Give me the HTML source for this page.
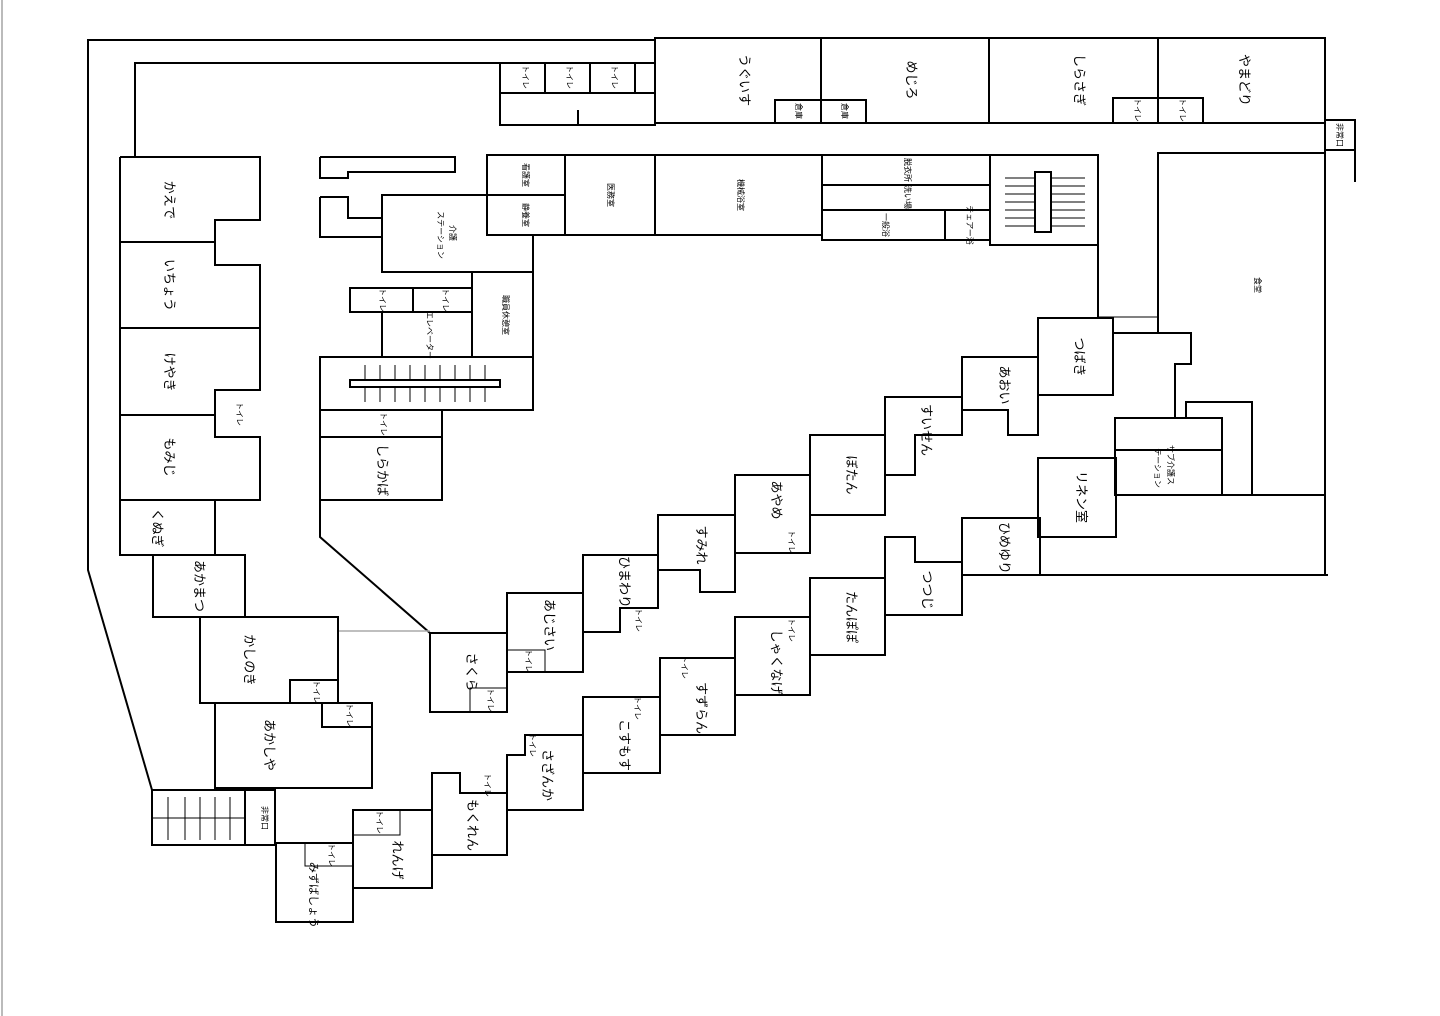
<!DOCTYPE html>
<html><head><meta charset="utf-8"><style>
html,body{margin:0;padding:0;background:#fff;}
svg{display:block;}
text{font-family:"Liberation Sans","Noto Sans CJK JP",sans-serif;fill:#000;}
</style></head><body>
<svg width="1440" height="1016" viewBox="0 0 1440 1016" xmlns="http://www.w3.org/2000/svg">
<rect x="0" y="0" width="1440" height="1016" fill="#fff"/>
<line x1="2" y1="0" x2="2" y2="1016" stroke="#bbb" stroke-width="2"/>
<g fill="none" stroke="#000" stroke-width="2">
<polyline points="655,40 88,40 88,570 152,790"/>
<polyline points="135,157 135,63 500,63"/>
<rect x="655" y="38" width="670" height="85"/>
<line x1="821" y1="38" x2="821" y2="123"/><line x1="989" y1="38" x2="989" y2="123"/><line x1="1158" y1="38" x2="1158" y2="123"/>
<rect x="775" y="100" width="91" height="23"/><line x1="821" y1="100" x2="821" y2="123"/>
<rect x="1113" y="98" width="90" height="25"/>
<rect x="500" y="63" width="155" height="62"/>
<line x1="500" y1="93" x2="655" y2="93"/><line x1="545" y1="63" x2="545" y2="93"/><line x1="590" y1="63" x2="590" y2="93"/><line x1="635" y1="63" x2="635" y2="93"/>
<line x1="578" y1="110" x2="578" y2="125"/>
<line x1="655" y1="123" x2="1325" y2="123"/>
<rect x="1325" y="120" width="30" height="30"/><line x1="1355" y1="150" x2="1355" y2="182"/>
<line x1="1325" y1="150" x2="1325" y2="575"/>
<polyline points="1325,153 1158,153 1158,333"/>
<rect x="487" y="155" width="335" height="80"/>
<line x1="487" y1="195" x2="565" y2="195"/><line x1="565" y1="155" x2="565" y2="235"/><line x1="655" y1="155" x2="655" y2="235"/>
<rect x="822" y="155" width="168" height="85"/>
<line x1="822" y1="185" x2="990" y2="185"/><line x1="822" y1="210" x2="990" y2="210"/><line x1="945" y1="210" x2="945" y2="240"/>
<rect x="990" y="155" width="108" height="90"/>
<line x1="1098" y1="245" x2="1098" y2="318"/>
<g stroke-width="1"><line x1="1005" y1="178" x2="1085" y2="178"/><line x1="1005" y1="186" x2="1085" y2="186"/><line x1="1005" y1="194" x2="1085" y2="194"/><line x1="1005" y1="202" x2="1085" y2="202"/><line x1="1005" y1="210" x2="1085" y2="210"/><line x1="1005" y1="218" x2="1085" y2="218"/><line x1="1005" y1="226" x2="1085" y2="226"/></g>
<rect x="1035" y="172" width="16" height="60" fill="#fff"/>
<polyline points="320,157 455,157 455,172 348,172 348,178 320,178 320,157"/>
<polyline points="320,197 348,197 348,218 382,218 382,195 487,195 487,235 533,235 533,410 442,410"/>
<polyline points="320,197 320,237 382,237"/>
<polyline points="382,195 382,272 533,272"/>
<rect x="350" y="288" width="122" height="24"/><line x1="413" y1="288" x2="413" y2="312"/>
<line x1="382" y1="312" x2="382" y2="357"/><line x1="472" y1="272" x2="472" y2="357"/>
<rect x="320" y="357" width="213" height="53"/>
<g stroke-width="1"><line x1="365" y1="365" x2="365" y2="402"/><line x1="380" y1="365" x2="380" y2="402"/><line x1="395" y1="365" x2="395" y2="402"/><line x1="410" y1="365" x2="410" y2="402"/><line x1="425" y1="365" x2="425" y2="402"/><line x1="440" y1="365" x2="440" y2="402"/><line x1="455" y1="365" x2="455" y2="402"/><line x1="470" y1="365" x2="470" y2="402"/><line x1="485" y1="365" x2="485" y2="402"/></g>
<rect x="350" y="380" width="150" height="7" fill="#fff"/>
<polyline points="442,410 442,500 320,500"/><line x1="320" y1="437" x2="442" y2="437"/>
<polyline points="320,410 320,537 430,633"/>
<line x1="338" y1="631" x2="430" y2="631" stroke="#aaa" stroke-width="1.5"/>
<polyline points="120,157 260,157 260,220 215,220 215,265 260,265 260,390 215,390 215,437 260,437 260,500 215,500 215,555 120,555 120,157"/>
<line x1="120" y1="242" x2="215" y2="242"/><line x1="120" y1="328" x2="260" y2="328"/><line x1="120" y1="415" x2="215" y2="415"/><line x1="120" y1="500" x2="215" y2="500"/>
<rect x="153" y="555" width="92" height="62"/>
<rect x="200" y="617" width="138" height="86"/><rect x="290" y="680" width="48" height="23"/>
<polyline points="215,703 215,788 372,788 372,703 322,703 322,727 372,727"/>
<rect x="152" y="790" width="93" height="55"/><rect x="245" y="790" width="30" height="55"/>
<line x1="152" y1="818" x2="245" y2="818" stroke-width="1"/>
<g stroke-width="1"><line x1="168" y1="797" x2="168" y2="840"/><line x1="185" y1="797" x2="185" y2="840"/><line x1="200" y1="797" x2="200" y2="840"/><line x1="215" y1="797" x2="215" y2="840"/><line x1="230" y1="797" x2="230" y2="840"/></g>
<rect x="276" y="843" width="77" height="79"/><rect x="305" y="843" width="48" height="23" stroke-width="1"/>
<rect x="353" y="810" width="79" height="78"/><rect x="353" y="810" width="47" height="25" stroke-width="1"/>
<polyline points="432,855 432,773 460,773 460,793 507,793 507,855 432,855"/>
<polyline points="507,810 507,755 525,755 525,735 583,735 583,810 507,810"/>
<rect x="583" y="697" width="77" height="76"/>
<rect x="660" y="658" width="75" height="77"/>
<rect x="735" y="617" width="75" height="78"/>
<rect x="810" y="578" width="75" height="77"/>
<polyline points="885,615 885,537 915,537 915,562 962,562 962,615 885,615"/>
<rect x="962" y="518" width="78" height="57"/>
<rect x="1038" y="458" width="78" height="79"/>
<line x1="1038" y1="575" x2="1328" y2="575"/>
<rect x="1115" y="418" width="107" height="77"/><line x1="1115" y1="450" x2="1222" y2="450"/>
<line x1="1115" y1="495" x2="1325" y2="495"/>
<polyline points="1175,418 1175,364 1191,364 1191,333 1114,333"/>
<polyline points="1186,418 1186,402 1252,402 1252,495"/>
<line x1="1098" y1="317" x2="1158" y2="317" stroke-width="1"/>
<rect x="430" y="633" width="77" height="79"/><rect x="470" y="688" width="37" height="24" stroke-width="1"/>
<rect x="507" y="593" width="76" height="79"/><rect x="507" y="650" width="38" height="22" stroke-width="1"/>
<polyline points="583,632 583,555 658,555 658,608 620,608 620,632 583,632"/>
<polyline points="658,592 658,515 735,515 735,592 700,592 700,570 658,570"/>
<rect x="735" y="475" width="75" height="78"/>
<rect x="810" y="435" width="75" height="80"/>
<polyline points="885,475 885,397 962,397 962,435 915,435 915,475 885,475"/>
<polyline points="962,435 962,357 1038,357 1038,435 1008,435 1008,410 962,410"/>
<rect x="1038" y="318" width="75" height="77"/>
</g>
<g font-size="13" text-anchor="middle">
<text transform="translate(740,80) rotate(90)">うぐいす</text>
<text transform="translate(907,80) rotate(90)">めじろ</text>
<text transform="translate(1075,80) rotate(90)">しらさぎ</text>
<text transform="translate(1240,80) rotate(90)">やまどり</text>
<text transform="translate(165,200) rotate(90)">かえで</text>
<text transform="translate(165,285) rotate(90)">いちょう</text>
<text transform="translate(165,372) rotate(90)">けやき</text>
<text transform="translate(165,457) rotate(90)">もみじ</text>
<text transform="translate(153,528) rotate(90)">くぬぎ</text>
<text transform="translate(195,586) rotate(90)">あかまつ</text>
<text transform="translate(245,660) rotate(90)">かしのき</text>
<text transform="translate(265,745) rotate(90)">あかしや</text>
<text transform="translate(310,895) rotate(90)" font-size="11">みずばしょう</text>
<text transform="translate(393,860) rotate(90)">れんげ</text>
<text transform="translate(468,825) rotate(90)">もくれん</text>
<text transform="translate(543,775) rotate(90)">さざんか</text>
<text transform="translate(620,745) rotate(90)">こすもす</text>
<text transform="translate(697,708) rotate(90)">すずらん</text>
<text transform="translate(772,662) rotate(90)">しゃくなげ</text>
<text transform="translate(847,617) rotate(90)">たんぽぽ</text>
<text transform="translate(923,590) rotate(90)">つつじ</text>
<text transform="translate(1000,548) rotate(90)">ひめゆり</text>
<text transform="translate(1077,497) rotate(90)">リネン室</text>
<text transform="translate(467,672) rotate(90)">さくら</text>
<text transform="translate(545,625) rotate(90)">あじさい</text>
<text transform="translate(620,582) rotate(90)">ひまわり</text>
<text transform="translate(697,545) rotate(90)">すみれ</text>
<text transform="translate(772,500) rotate(90)">あやめ</text>
<text transform="translate(847,475) rotate(90)">ぼたん</text>
<text transform="translate(922,430) rotate(90)">すいせん</text>
<text transform="translate(1000,385) rotate(90)">あおい</text>
<text transform="translate(1075,357) rotate(90)">つばき</text>
<text transform="translate(378,470) rotate(90)">しらかば</text>
</g>
<g font-size="8" text-anchor="middle">
<text transform="translate(523,77) rotate(90)">トイレ</text>
<text transform="translate(567,77) rotate(90)">トイレ</text>
<text transform="translate(612,77) rotate(90)">トイレ</text>
<text transform="translate(796,111) rotate(90)">倉庫</text>
<text transform="translate(842,111) rotate(90)">倉庫</text>
<text transform="translate(1135,110) rotate(90)">トイレ</text>
<text transform="translate(1180,110) rotate(90)">トイレ</text>
<text transform="translate(1337,135) rotate(90)">非常口</text>
<text transform="translate(523,175) rotate(90)">看護室</text>
<text transform="translate(523,215) rotate(90)">静養室</text>
<text transform="translate(608,195) rotate(90)">医務室</text>
<text transform="translate(738,195) rotate(90)">機械浴室</text>
<text transform="translate(905,170) rotate(90)">脱衣所</text>
<text transform="translate(905,197) rotate(90)">洗い場</text>
<text transform="translate(883,225) rotate(90)">一般浴</text>
<text transform="translate(967,225) rotate(90)">チェアー浴</text>
<text transform="translate(1255,285) rotate(90)">食堂</text>
<text transform="translate(450,233) rotate(90)">介護</text>
<text transform="translate(438,235) rotate(90)">ステーション</text>
<text transform="translate(380,300) rotate(90)">トイレ</text>
<text transform="translate(443,300) rotate(90)">トイレ</text>
<text transform="translate(427,335) rotate(90)">エレベーター</text>
<text transform="translate(503,315) rotate(90)">職員休憩室</text>
<text transform="translate(381,424) rotate(90)">トイレ</text>
<text transform="translate(237,414) rotate(90)">トイレ</text>
<text transform="translate(314,692) rotate(90)">トイレ</text>
<text transform="translate(347,715) rotate(90)">トイレ</text>
<text transform="translate(262,818) rotate(90)">非常口</text>
<text transform="translate(329,855) rotate(90)">トイレ</text>
<text transform="translate(377,822) rotate(90)">トイレ</text>
<text transform="translate(485,785) rotate(90)">トイレ</text>
<text transform="translate(530,745) rotate(90)">トイレ</text>
<text transform="translate(635,708) rotate(90)">トイレ</text>
<text transform="translate(682,667) rotate(90)">トイレ</text>
<text transform="translate(789,630) rotate(90)">トイレ</text>
<text transform="translate(488,700) rotate(90)">トイレ</text>
<text transform="translate(526,661) rotate(90)">トイレ</text>
<text transform="translate(636,620) rotate(90)">トイレ</text>
<text transform="translate(789,542) rotate(90)">トイレ</text>
<text transform="translate(1168,465) rotate(90)">サブ介護ス</text>
<text transform="translate(1155,468) rotate(90)">テーション</text>
</g>
</svg>
</body></html>
